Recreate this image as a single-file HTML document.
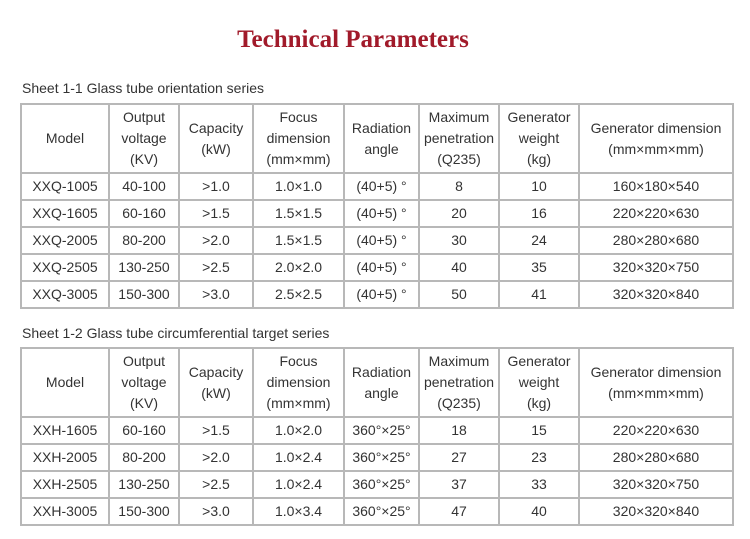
<!DOCTYPE html>
<html><head><style>
body{margin:0;width:750px;height:539px;background:#fff;font-family:"Liberation Sans","DejaVu Sans",sans-serif;color:#333;position:relative;overflow:hidden}
h1{position:absolute;top:26px;left:0;width:706px;text-align:center;margin:0;font:bold 25px "Liberation Serif",serif;color:#a11a2a}
.cap{position:absolute;left:22px;font-size:14px;color:#333}
table{position:absolute;left:20px;border-collapse:collapse;table-layout:fixed;width:712px}
td{border:2px solid #b8b8b8;text-align:center;font-size:14px;padding:0;line-height:21px}
tr.h td{height:67px}
tr.r td{height:25px}
</style></head><body>
<h1>Technical Parameters</h1>
<div class="cap" style="top:80px">Sheet 1-1 Glass tube orientation series</div>
<table style="top:103px">
<colgroup><col style="width:88px"><col style="width:70px"><col style="width:74px"><col style="width:91px"><col style="width:75px"><col style="width:80px"><col style="width:80px"><col style="width:154px"></colgroup>
<tr class="h"><td>Model</td><td>Output<br>voltage<br>(KV)</td><td>Capacity<br>(kW)</td><td>Focus<br>dimension<br>(mm×mm)</td><td>Radiation<br>angle</td><td>Maximum<br>penetration<br>(Q235)</td><td>Generator<br>weight<br>(kg)</td><td>Generator dimension<br>(mm×mm×mm)</td></tr>
<tr class="r"><td>XXQ-1005</td><td>40-100</td><td>&gt;1.0</td><td>1.0×1.0</td><td>(40+5) °</td><td>8</td><td>10</td><td>160×180×540</td></tr>
<tr class="r"><td>XXQ-1605</td><td>60-160</td><td>&gt;1.5</td><td>1.5×1.5</td><td>(40+5) °</td><td>20</td><td>16</td><td>220×220×630</td></tr>
<tr class="r"><td>XXQ-2005</td><td>80-200</td><td>&gt;2.0</td><td>1.5×1.5</td><td>(40+5) °</td><td>30</td><td>24</td><td>280×280×680</td></tr>
<tr class="r"><td>XXQ-2505</td><td>130-250</td><td>&gt;2.5</td><td>2.0×2.0</td><td>(40+5) °</td><td>40</td><td>35</td><td>320×320×750</td></tr>
<tr class="r"><td>XXQ-3005</td><td>150-300</td><td>&gt;3.0</td><td>2.5×2.5</td><td>(40+5) °</td><td>50</td><td>41</td><td>320×320×840</td></tr>
</table>
<div class="cap" style="top:325px">Sheet 1-2 Glass tube circumferential target series</div>
<table style="top:347px">
<colgroup><col style="width:88px"><col style="width:70px"><col style="width:74px"><col style="width:91px"><col style="width:75px"><col style="width:80px"><col style="width:80px"><col style="width:154px"></colgroup>
<tr class="h"><td>Model</td><td>Output<br>voltage<br>(KV)</td><td>Capacity<br>(kW)</td><td>Focus<br>dimension<br>(mm×mm)</td><td>Radiation<br>angle</td><td>Maximum<br>penetration<br>(Q235)</td><td>Generator<br>weight<br>(kg)</td><td>Generator dimension<br>(mm×mm×mm)</td></tr>
<tr class="r"><td>XXH-1605</td><td>60-160</td><td>&gt;1.5</td><td>1.0×2.0</td><td>360°×25°</td><td>18</td><td>15</td><td>220×220×630</td></tr>
<tr class="r"><td>XXH-2005</td><td>80-200</td><td>&gt;2.0</td><td>1.0×2.4</td><td>360°×25°</td><td>27</td><td>23</td><td>280×280×680</td></tr>
<tr class="r"><td>XXH-2505</td><td>130-250</td><td>&gt;2.5</td><td>1.0×2.4</td><td>360°×25°</td><td>37</td><td>33</td><td>320×320×750</td></tr>
<tr class="r"><td>XXH-3005</td><td>150-300</td><td>&gt;3.0</td><td>1.0×3.4</td><td>360°×25°</td><td>47</td><td>40</td><td>320×320×840</td></tr>
</table>
</body></html>
